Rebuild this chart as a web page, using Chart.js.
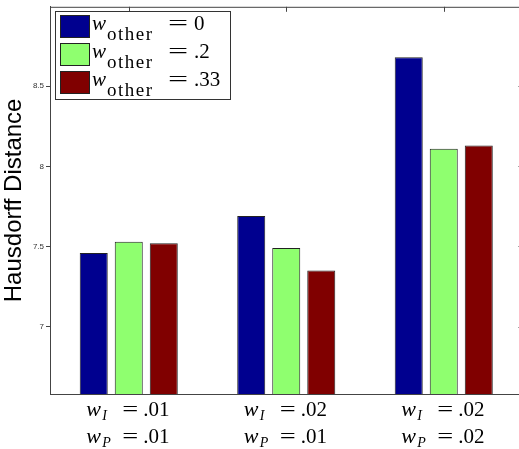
<!DOCTYPE html>
<html>
<head>
<meta charset="utf-8">
<script src="https://cdn.jsdelivr.net/npm/chart.js@4/dist/chart.umd.min.js"></script>
<style>
  html, body { margin: 0; padding: 0; overflow: hidden; background: #fff; }
  #wrap { width: 524px; height: 449px; }
</style>
</head>
<body>
<div id="wrap"><canvas id="myChart"></canvas></div>
<script>
// data
var groups = [['.01', '.01'], ['.02', '.01'], ['.02', '.02']]; // [w_I, w_P]
var otherWeights = ['0', '.2', '.33'];
var seriesOther0 = [7.46, 7.69, 8.68];
var seriesOther2 = [7.53, 7.49, 8.11];
var seriesOther33 = [7.52, 7.35, 8.13];
var yTicks = [7, 7.5, 8, 8.5];

var colors = ['#00008f', '#8fff6f', '#800000'];
var serif = '"Liberation Serif", "DejaVu Serif", serif';

// w_sub = value, laid out like the LaTeX labels
function drawMath(ctx, x0, base, opt) {
    ctx.textAlign = 'left';
    ctx.font = 'italic ' + opt.wSize + 'px ' + serif;
    ctx.fillText('w', x0, base);
    ctx.font = opt.subFont;
    if ('letterSpacing' in ctx) ctx.letterSpacing = opt.subSpacing;
    ctx.fillText(opt.sub, x0 + opt.subDx, base + opt.subDy);
    if ('letterSpacing' in ctx) ctx.letterSpacing = '0px';
    // the TeX "=" is wider than the Times one, so stretch it
    ctx.save();
    ctx.translate(x0 + opt.eqDx, base);
    ctx.scale(opt.eqStretch, 1);
    ctx.font = opt.valSize + 'px ' + serif;
    ctx.fillText('=', 0, 0);
    ctx.restore();
    ctx.font = opt.valSize + 'px ' + serif;
    ctx.fillText(opt.val, x0 + opt.valDx, base);
}

// box, extra ticks, x labels and legend
var decorations = {
    id: 'decorations',
    afterDraw: function (chart) {
        var ctx = chart.ctx;
        var a = chart.chartArea;
        var x = chart.scales.x, y = chart.scales.y;
        ctx.save();
        ctx.strokeStyle = '#444';
        ctx.lineWidth = 1;
        ctx.strokeRect(a.left + 0.5, a.top + 0.5, a.right - a.left, a.bottom - a.top);
        ctx.beginPath();
        yTicks.forEach(function (t) {
            var py = Math.round(y.getPixelForValue(t)) + 0.5;
            ctx.moveTo(a.right - 4, py); ctx.lineTo(a.right, py);
        });
        groups.forEach(function (g, i) {
            var px = Math.round(x.getPixelForValue(i)) + 0.5;
            ctx.moveTo(px, a.top); ctx.lineTo(px, a.top + 5);
        });
        ctx.stroke();

        // x labels
        ctx.fillStyle = '#000';
        ctx.textBaseline = 'alphabetic';
        groups.forEach(function (g, i) {
            var x0 = x.getPixelForValue(i) - 42.5;
            [['I', g[0], 416], ['P', g[1], 443]].forEach(function (l) {
                drawMath(ctx, x0, l[2], {
                    wSize: 22, sub: l[0], subFont: 'italic 14px ' + serif, subSpacing: '0px',
                    subDx: 16, subDy: 4, eqDx: 36, eqStretch: 1.35, valSize: 21, val: l[1], valDx: 57
                });
            });
        });

        // legend
        ctx.fillStyle = '#fff';
        ctx.fillRect(55, 11, 175, 88);
        ctx.strokeStyle = '#333';
        ctx.strokeRect(55.5, 11.5, 175, 88);
        otherWeights.forEach(function (w, i) {
            var top = 15 + i * 28;
            ctx.fillStyle = colors[i];
            ctx.fillRect(60, top, 29, 22);
            ctx.strokeStyle = '#222';
            ctx.strokeRect(60.5, top + 0.5, 29, 22);
            ctx.fillStyle = '#000';
            drawMath(ctx, 92, top + 15, {
                wSize: 21, sub: 'other', subFont: '19px ' + serif, subSpacing: '1.5px',
                subDx: 15, subDy: 10, eqDx: 76, eqStretch: 1.7, valSize: 21, val: w, valDx: 102
            });
        });
        ctx.restore();
    }
};

var ctx = document.getElementById('myChart').getContext('2d');
var myChart = new Chart(ctx, {
    type: 'bar',
    data: {
        labels: groups.map(function (g) { return g.join(' / '); }),
        datasets: [
            { label: 'w_other = 0', data: seriesOther0, backgroundColor: colors[0] },
            { label: 'w_other = .2', data: seriesOther2, backgroundColor: colors[1] },
            { label: 'w_other = .33', data: seriesOther33, backgroundColor: colors[2] }
        ]
    },
    options: {
        responsive: true,
        maintainAspectRatio: false,
        animation: false,
        layout: { padding: { top: 4, right: 1.5, bottom: 55, left: 0 } },
        datasets: {
            bar: {
                categoryPercentage: 0.667,
                barPercentage: 0.8,
                borderColor: '#222',
                borderWidth: 1,
                borderSkipped: 'bottom'
            }
        },
        plugins: {
            legend: { display: false },
            tooltip: { enabled: false }
        },
        scales: {
            x: { display: false },
            y: {
                min: 6.58,
                max: 8.995,
                afterBuildTicks: function (axis) {
                    axis.ticks = yTicks.map(function (v) { return { value: v }; });
                },
                afterFit: function (axis) { axis.width = 50; },
                ticks: {
                    font: { family: 'Liberation Sans, Arial, sans-serif', size: 8 },
                    color: '#333',
                    padding: 2,
                    callback: function (v) { return String(v); }
                },
                grid: {
                    drawOnChartArea: false,
                    drawTicks: true,
                    tickLength: 4,
                    color: '#444'
                },
                border: { display: true, color: '#444' },
                title: {
                    display: true,
                    text: 'Hausdorff Distance',
                    color: '#000',
                    font: { family: 'Liberation Sans, Arial, sans-serif', size: 24 },
                    padding: 0
                }
            }
        }
    },
    plugins: [decorations]
});
</script>
</body>
</html>
